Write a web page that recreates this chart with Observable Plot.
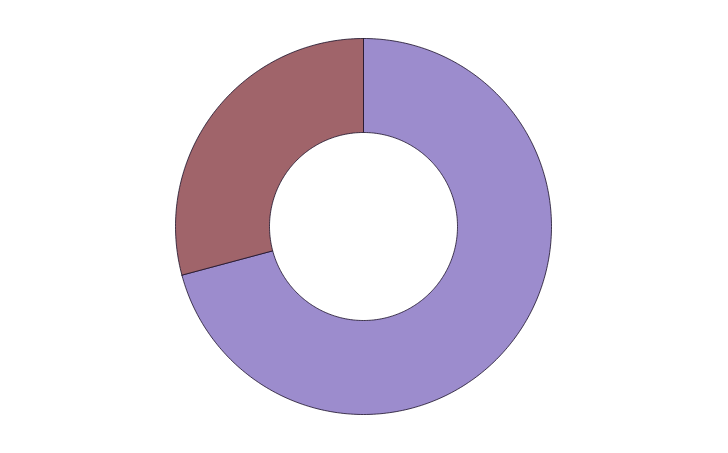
<!DOCTYPE html>
<html>
<head>
<meta charset="utf-8">
<script src="https://cdn.jsdelivr.net/npm/d3@7"></script>
<script src="https://cdn.jsdelivr.net/npm/@observablehq/plot@0.6"></script>
<style>
  html, body { margin: 0; padding: 0; background: #fff; }
</style>
</head>
<body>
<div id="chart"></div>
<script>
const categories = ["A", "B"];
const values = [17, 7];
const colors = ["#9c8ccd", "#a0646a"];
const innerRatio = 0.5;

const arcs = d3.pie().sort(null)(values);
const rows = [];
arcs.forEach((a, i) => {
  const n = Math.max(2, Math.ceil((a.endAngle - a.startAngle) * 180 / Math.PI));
  const pts = [];
  for (let k = 0; k <= n; k++) {
    const t = a.startAngle + (a.endAngle - a.startAngle) * k / n;
    pts.push({name: categories[i], x: Math.sin(t), y: Math.cos(t)});
  }
  for (let k = n; k >= 0; k--) {
    const t = a.startAngle + (a.endAngle - a.startAngle) * k / n;
    pts.push({name: categories[i], x: innerRatio * Math.sin(t), y: innerRatio * Math.cos(t)});
  }
  pts.push({...pts[0]});
  rows.push(...pts);
});

const chart = Plot.plot({
  width: 728,
  height: 453,
  marginLeft: 175,
  marginRight: 177,
  marginTop: 38,
  marginBottom: 39,
  x: {domain: [-1, 1], axis: null},
  y: {domain: [-1, 1], axis: null},
  color: {domain: categories, range: colors},
  marks: [
    Plot.line(rows, {x: "x", y: "y", z: "name", fill: "name", stroke: "#1a1028", strokeWidth: 0.8, curve: "linear"})
  ]
});
document.getElementById("chart").appendChild(chart);
</script>
</body>
</html>
